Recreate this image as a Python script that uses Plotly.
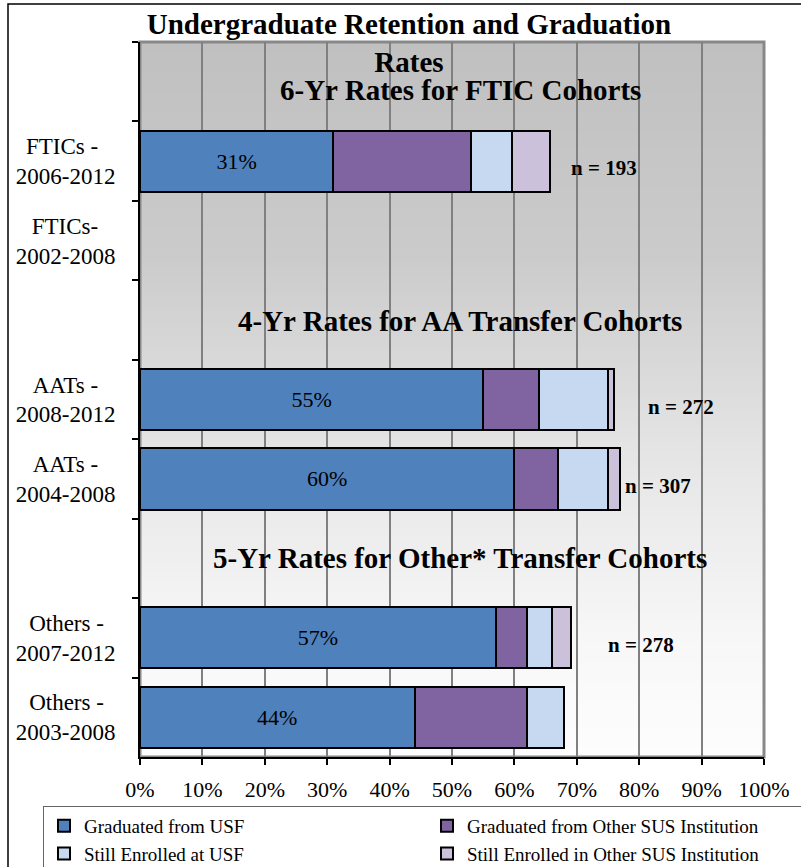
import plotly.graph_objects as go

# ---------------- data ----------------
categories = [
    "\u200b",
    "FTICs -\u00a0\u00a0\u00a0<br>2006-2012",
    "FTICs-\u00a0\u00a0\u00a0<br>2002-2008",
    "\u200b\u200b",
    "AATs -\u00a0\u00a0\u00a0<br>2008-2012",
    "AATs -\u00a0\u00a0\u00a0<br>2004-2008",
    "\u200b\u200b\u200b",
    "Others -\u00a0\u00a0<br>2007-2012",
    "Others -\u00a0\u00a0<br>2003-2008",
]
grad_usf = [None, 31, None, None, 55, 60, None, 57, 44]
grad_other = [None, 22, None, None, 9, 7, None, 5, 18]
enrolled_usf = [None, 6.6, None, None, 11, 8, None, 4, 6]
enrolled_other = [None, 6.1, None, None, 1, 2, None, 3, 0]
n_sizes = [None, 193, None, None, 272, 307, None, 278, None]
n_x = [None, 74.4, None, None, 86.7, 83.0, None, 80.3, None]

series_names = ["Graduated from USF", "Graduated from Other SUS Institution",
                "Still Enrolled at USF", "Still Enrolled in Other SUS Institution"]
series_colors = ["#4f81bd", "#8064a2", "#c6d9f1", "#ccc1da"]

section_titles = ["6-Yr Rates for FTIC Cohorts",
                  "4-Yr Rates for AA Transfer Cohorts",
                  "5-Yr Rates for Other* Transfer Cohorts"]
section_rows = [0, 3, 6]
section_shift = [-8, -1, 0]

x_ticks = list(range(0, 101, 10))
x_tick_labels = [f"{v}%" for v in x_ticks]

SERIF = "Liberation Serif"

fig = go.Figure()
all_vals = [grad_usf, grad_other, enrolled_usf, enrolled_other]
for i, (name, color, vals) in enumerate(zip(series_names, series_colors, all_vals)):
    kw = {}
    if i == 0:
        kw = dict(text=[f"{v}%" if v is not None else None for v in vals],
                  textposition="inside", insidetextanchor="middle",
                  textfont=dict(family=SERIF, size=22, color="black"),
                  textangle=0)
    fig.add_trace(go.Bar(
        y=categories, x=vals, orientation="h", name=name,
        marker=dict(color=color, line=dict(color="black", width=2)),
        hoverinfo="x+name", **kw))

# ---------------- background gradient (plot area) ----------------
stops = [(0.0, 192), (0.3, 203), (0.6, 231), (0.85, 248), (1.0, 253)]
def grey_at(t):
    for (t0, g0), (t1, g1) in zip(stops[:-1], stops[1:]):
        if t0 <= t <= t1:
            return g0 + (g1 - g0) * (t - t0) / (t1 - t0)
    return stops[-1][1]

shapes = []
nstrip = 143
for k in range(nstrip):
    t = (k + 0.5) / nstrip
    g = int(round(grey_at(t)))
    shapes.append(dict(type="rect", xref="paper", yref="paper", layer="below",
                       x0=0, x1=1, y0=1 - (k + 1) / nstrip - 0.001, y1=1 - k / nstrip,
                       fillcolor=f"rgb({g},{g},{g})", line=dict(width=0)))
# plot area border (gray)
shapes.append(dict(type="rect", xref="paper", yref="paper", layer="below",
                   x0=0, x1=1, y0=0, y1=1, line=dict(color="#888888", width=3)))
# outer chart border
shapes.append(dict(type="rect", xref="paper", yref="paper", layer="below",
                   x0=(8 - 140) / 624, x1=1.2, y0=-0.4, y1=(757 - 4) / 715,
                   line=dict(color="black", width=1.5)))

annotations = []
for txt, r, sh in zip(section_titles, section_rows, section_shift):
    annotations.append(dict(x=51.3, y=categories[r], xref="x", yref="y", text=f"<b>{txt}</b>",
                            showarrow=False, yshift=sh,
                            font=dict(family=SERIF, size=29, color="black")))
for c, n, xv in zip(categories, n_sizes, n_x):
    if n is not None:
        annotations.append(dict(x=xv, y=c, xref="x", yref="y", text=f"<b>n = {n}</b>",
                                showarrow=False, yshift=-7,
                                font=dict(family=SERIF, size=21, color="black")))

fig.update_layout(
    width=801, height=867,
    barmode="stack", bargap=0.23,
    paper_bgcolor="white", plot_bgcolor="rgba(0,0,0,0)",
    margin=dict(l=140, r=37, t=42, b=110, autoexpand=False),
    font=dict(family=SERIF, color="black"),
    title=dict(text="<b>Undergraduate Retention and Graduation<br>Rates</b>",
               x=409 / 801, xanchor="center", xref="container",
               y=1 - 34 / 867, yanchor="top", yref="container",
               font=dict(family=SERIF, size=29, color="black")),
    xaxis=dict(range=[0, 100], tickmode="array", tickvals=x_ticks, ticktext=x_tick_labels,
               showgrid=True, gridcolor="#808080", gridwidth=1.5,
               showline=True, linecolor="black", linewidth=2,
               ticks="outside", ticklen=6, tickcolor="black", tickwidth=1.5,
               ticklabelstandoff=6,
               tickfont=dict(family=SERIF, size=22, color="black"),
               zeroline=False, fixedrange=True),
    yaxis=dict(type="category", categoryorder="array", categoryarray=categories,
               autorange="reversed", tickson="boundaries",
               showgrid=False, showline=True, linecolor="black", linewidth=2,
               ticks="outside", ticklen=6, tickcolor="black", tickwidth=1.5,
               ticklabelstandoff=18,
               tickfont=dict(family=SERIF, size=23, color="black"),
               fixedrange=True),
    legend=dict(orientation="h", xref="paper", yref="paper",
                x=(43 - 140) / 624, y=(757 - 806) / 715, xanchor="left", yanchor="top",
                entrywidth=338, entrywidthmode="pixels",
                bordercolor="#666666", borderwidth=1, bgcolor="white",
                font=dict(family=SERIF, size=19, color="black"),
                traceorder="normal", itemclick=False),
    shapes=shapes, annotations=annotations,
    showlegend=True,
)

fig.write_html("out.html", config={"displayModeBar": False},
               post_script="document.body.style.margin='0px';document.body.style.overflow='hidden';")
